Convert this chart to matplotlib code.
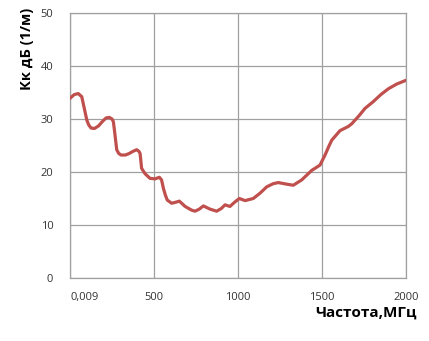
from matplotlib import pyplot as plt

# Frequency (MHz) and coefficient values
freq = [0, 25, 49, 70, 85, 100, 111, 125, 145, 170,
        195, 215, 234, 250, 258, 264, 270, 278, 290, 304,
        330, 353, 375, 397, 410, 417, 422, 426, 446, 476,
        506, 532, 545, 556, 568, 579, 605, 630, 651, 685,
        724, 744, 770, 794, 833, 873, 900, 923, 952, 980,
        1008, 1042, 1091, 1131, 1171, 1210, 1240, 1290, 1329, 1379,
        1439, 1488, 1518, 1540, 1558, 1607, 1657, 1677, 1720, 1756,
        1806, 1850, 1895, 1945, 2000]
kk = [33.9, 34.6, 34.8, 34.2, 32.0, 29.8, 28.9, 28.3, 28.2, 28.7,
      29.6, 30.2, 30.3, 30.0, 29.5, 28.0, 26.4, 24.2, 23.5, 23.2,
      23.2, 23.5, 23.9, 24.2, 23.9, 23.5, 22.0, 20.7, 19.7, 18.8,
      18.7, 19.0, 18.5, 16.9, 15.6, 14.7, 14.1, 14.3, 14.5, 13.5,
      12.8, 12.6, 13.0, 13.6, 13.0, 12.6, 13.1, 13.8, 13.5, 14.3,
      15.0, 14.6, 15.0, 16.0, 17.2, 17.8, 18.0, 17.7, 17.5, 18.5,
      20.3, 21.3, 23.2, 24.8, 26.0, 27.8, 28.6, 29.1, 30.6, 32.0,
      33.3, 34.6, 35.7, 36.6, 37.3]

xticks = [0, 500, 1000, 1500, 2000]
xtick_labels = ["0,009", "500", "1000", "1500", "2000"]
yticks = [0, 10, 20, 30, 40, 50]

plt.rcParams['font.family'] = ['Open Sans', 'DejaVu Sans']

fig = plt.figure(figsize=(4.29, 3.41), dpi=100)
ax = fig.add_axes([0.1632, 0.1848, 0.7832, 0.7771])

ax.plot(freq, kk, color='#C0504D', linewidth=2.3, solid_joinstyle='round', solid_capstyle='round', zorder=3)

ax.set_xlim(0, 2000)
ax.set_ylim(0, 50)
ax.set_xticks(xticks)
ax.set_xticklabels(xtick_labels)
ax.set_yticks(yticks)
ax.xaxis.get_ticklabels()[0].set_ha('left')

ax.grid(True, color='#A0A0A0', linewidth=0.9)
for s in ax.spines.values():
    s.set_color('#A0A0A0')
    s.set_linewidth(0.9)
ax.tick_params(length=0, labelsize=8, colors='#333333')
ax.tick_params(axis='x', pad=10)
ax.tick_params(axis='y', pad=12)

ax.set_ylabel('Кк дБ (1/м)', fontsize=10.5, fontweight='bold', va='center')
ax.yaxis.set_label_coords(-0.128, 0.866)
ax.set_xlabel('Частота,МГц', fontsize=11, fontweight='bold', va='center')
ax.xaxis.set_label_coords(0.881, -0.132)

fig.savefig('out.png', dpi=100)
